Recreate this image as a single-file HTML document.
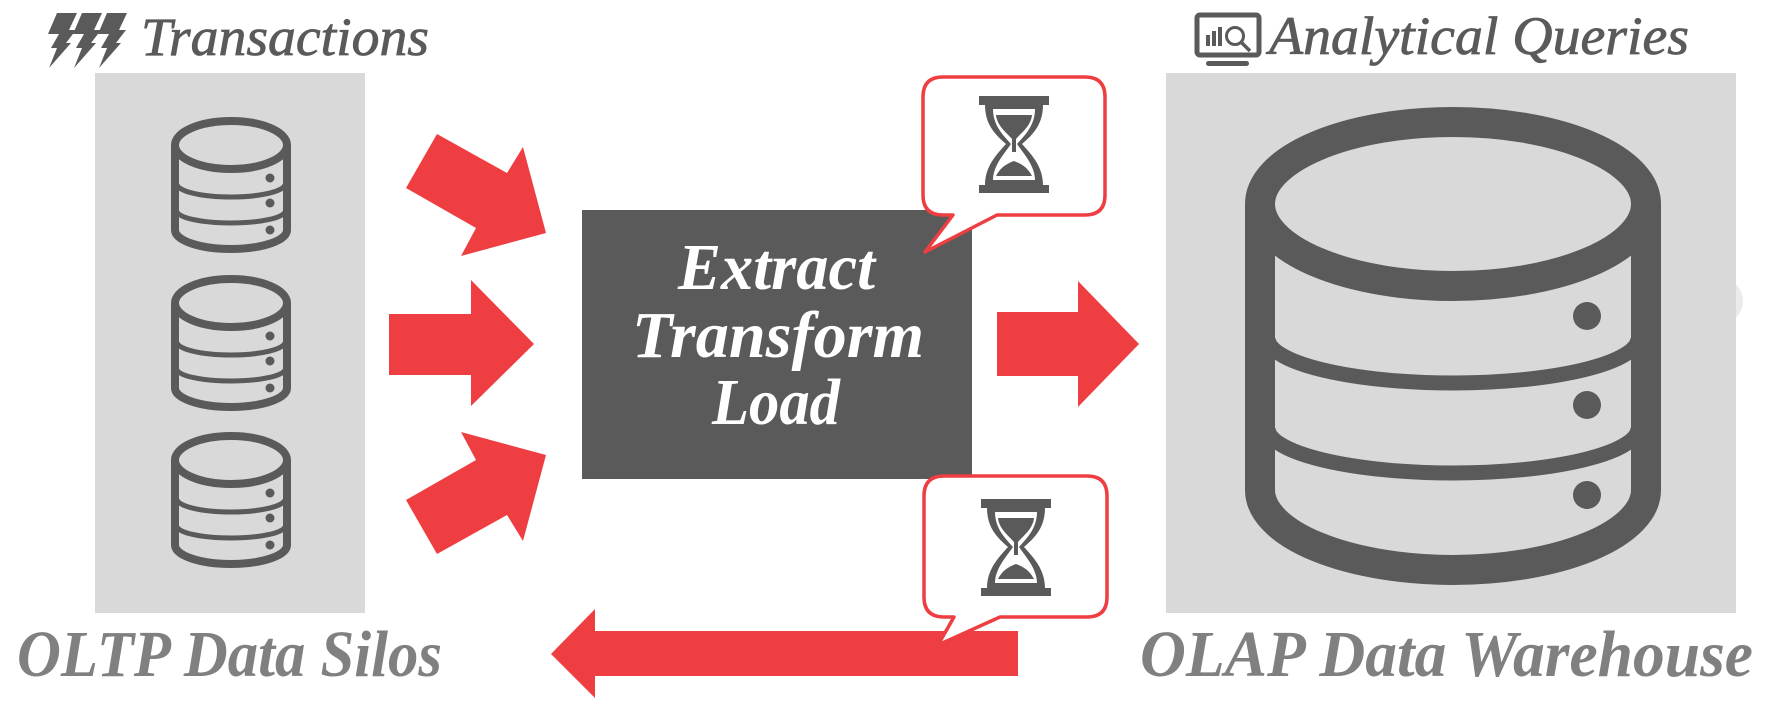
<!DOCTYPE html>
<html><head><meta charset="utf-8"><style>
html,body{margin:0;padding:0;background:#fff;width:1769px;height:708px;overflow:hidden}
svg{display:block}
text{font-family:"Liberation Serif",serif;font-style:italic}
</style></head><body>
<svg width="1769" height="708" viewBox="0 0 1769 708" xmlns="http://www.w3.org/2000/svg">
<defs>
<g id="cyl" fill="none" stroke="#5a5a5a">
  <path d="M4,28 V113 A56,19 0 0 0 116,113 V28" stroke-width="8"/>
  <ellipse cx="60" cy="28" rx="56" ry="24" stroke-width="8"/>
  <path d="M6,67 A54,13 0 0 0 114,67" stroke-width="5"/>
  <path d="M6,94 A54,12 0 0 0 114,94" stroke-width="5"/>
  <g fill="#5a5a5a" stroke="none">
    <circle cx="99" cy="61" r="4.5"/><circle cx="99" cy="86" r="4.5"/><circle cx="99" cy="113" r="4.5"/>
  </g>
</g>
<g id="hg" fill="#5a5a5a">
  <rect x="0" y="0" width="70" height="9"/>
  <rect x="0" y="89" width="70" height="8"/>
  <path d="M6,9 C6,30 18,40 27,48 C18,58 6,70 6,89 H64 C64,70 52,58 43,48 C52,40 64,30 64,9 Z"/>
  <path fill="#fff" d="M14,13 C14,30 25,40 32,48 C25,58 14,70 14,84 H56 C56,70 45,58 38,48 C45,40 56,30 56,13Z"/>
  <path d="M17,19 H53 C52,30 42,37 37,43 V56 H33 V43 C28,37 18,30 17,19Z"/>
  <path d="M17,80 C22,70 30,67 35,65 C40,67 48,70 53,80Z"/>
</g>
<path id="bolt" d="M10,0 H30 L22,17 H29 L19,30 H24 L2,55 L10,35 H4 L12,21 H1 Z"/>
</defs>

<circle cx="1720" cy="301" r="23" fill="#ebebeb"/>

<rect x="95" y="73" width="270" height="540" fill="#d9d9d9"/>
<rect x="1166" y="73" width="570" height="540" fill="#d9d9d9"/>

<g fill="#5a5a5a">
  <use href="#bolt" x="47" y="13"/><use href="#bolt" x="72" y="13"/><use href="#bolt" x="97" y="13"/>
</g>
<text x="141" y="55" font-size="54" fill="#5a5a5a" stroke="#5a5a5a" stroke-width="0.8" textLength="288" lengthAdjust="spacingAndGlyphs">Transactions</text>

<g>
  <rect x="1197" y="15" width="62" height="40" rx="3" fill="none" stroke="#5a5a5a" stroke-width="5"/>
  <rect x="1206" y="61" width="43" height="5" rx="2.5" fill="#5a5a5a"/>
  <rect x="1206" y="35" width="4" height="11" fill="#5a5a5a"/>
  <rect x="1212" y="31" width="4" height="15" fill="#5a5a5a"/>
  <rect x="1218" y="27" width="4" height="19" fill="#5a5a5a"/>
  <circle cx="1235" cy="36" r="8.5" fill="none" stroke="#5a5a5a" stroke-width="3"/>
  <line x1="1241" y1="42" x2="1250" y2="51" stroke="#5a5a5a" stroke-width="3.5"/>
</g>
<text x="1269" y="54" font-size="54" fill="#5a5a5a" stroke="#5a5a5a" stroke-width="0.8" textLength="420" lengthAdjust="spacingAndGlyphs">Analytical Queries</text>

<use href="#cyl" x="171" y="117"/>
<use href="#cyl" x="171" y="275"/>
<use href="#cyl" x="171" y="432"/>

<g fill="none" stroke="#5a5a5a">
  <path d="M1260,204 V490 A193,80 0 0 0 1646,490 V204" stroke-width="30"/>
  <ellipse cx="1453" cy="204" rx="193" ry="82" stroke-width="30"/>
  <path d="M1268,338 A185,45 0 0 0 1638,338" stroke-width="15"/>
  <path d="M1268,428 A185,45 0 0 0 1638,428" stroke-width="15"/>
</g>
<g fill="#5a5a5a">
  <circle cx="1587" cy="316" r="14"/><circle cx="1587" cy="405" r="14"/><circle cx="1587" cy="495" r="14"/>
</g>

<g fill="#ef3e42">
  <polygon points="437,134 507,173 523,147 546,233 461,256 476,228 406,188"/>
  <polygon points="389,314 471,314 471,280 534,344 471,406 471,375 389,375"/>
  <polygon points="437,554 507,515 523,541 546,455 461,432 476,460 406,500"/>
  <polygon points="997,312 1078,312 1078,281 1139,344 1078,407 1078,376 997,376"/>
  <polygon points="1018,631 595,631 595,609 551,654 595,698 595,676 1018,676"/>
</g>

<rect x="582" y="210" width="390" height="269" fill="#5a5a5a"/>
<g fill="#fff" font-size="66" font-weight="bold">
  <text x="678" y="289" textLength="197" lengthAdjust="spacingAndGlyphs">Extract</text>
  <text x="632" y="357" textLength="292" lengthAdjust="spacingAndGlyphs">Transform</text>
  <text x="712" y="424" textLength="128" lengthAdjust="spacingAndGlyphs">Load</text>
</g>

<path d="M943,215 Q923,215 923,195 V97 Q923,77 943,77 H1085 Q1105,77 1105,97 V195 Q1105,215 1085,215 H997 L925,252 L953,215 Z" fill="#fff" stroke="#ef3e42" stroke-width="3.5" stroke-linejoin="round"/>
<use href="#hg" x="979" y="96"/>
<path d="M944,617 Q924,617 924,597 V496 Q924,476 944,476 H1087 Q1107,476 1107,496 V597 Q1107,617 1087,617 H1000 L938,645 L954,617 Z" fill="#fff" stroke="#ef3e42" stroke-width="3.5" stroke-linejoin="round"/>
<use href="#hg" x="981" y="499"/>

<g fill="#808080" font-size="66" font-weight="bold">
  <text x="17" y="676" textLength="425" lengthAdjust="spacingAndGlyphs">OLTP Data Silos</text>
  <text x="1140" y="676" textLength="613" lengthAdjust="spacingAndGlyphs">OLAP Data Warehouse</text>
</g>
</svg>
</body></html>
